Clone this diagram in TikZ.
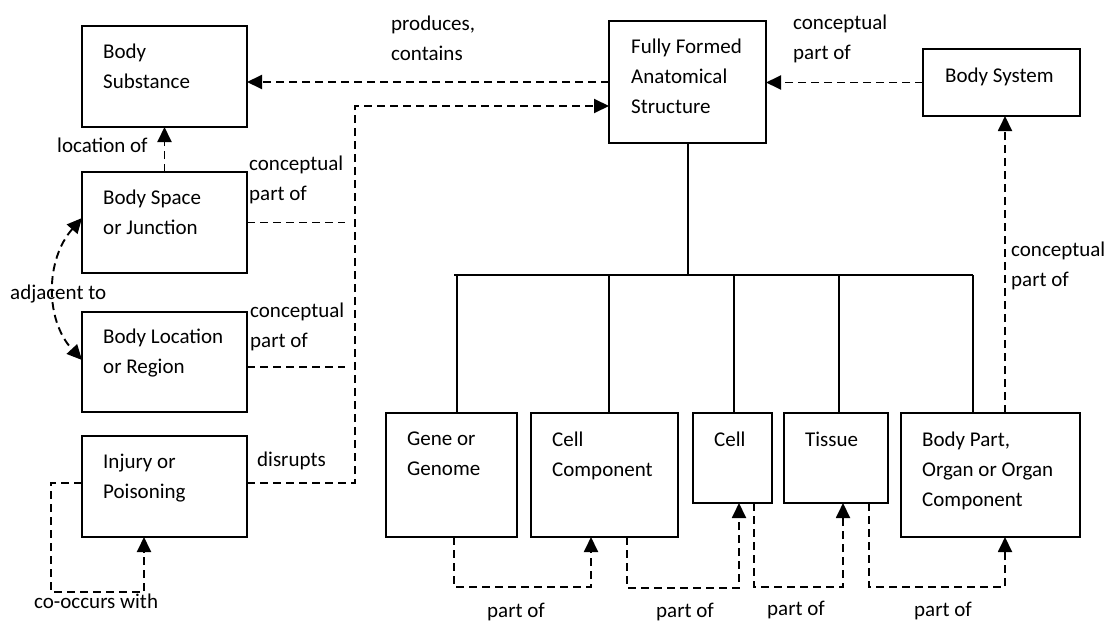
\documentclass[tikz,border=0pt]{standalone}
\usepackage{fontspec}
\setmainfont{Carlito}
\usetikzlibrary{calc,arrows.meta}
\begin{document}
\begin{tikzpicture}[x=1pt,y=-1pt,
  box/.style={draw,line width=2pt,rectangle,inner sep=0pt,outer sep=0pt,anchor=north west},
  txt/.style={anchor=north west,inner sep=0pt,align=left,font=\fontsize{21}{30}\selectfont},
  dep/.style={line width=1.9pt,dash pattern=on 8pt off 5pt},
  tip/.style={-{Triangle[length=15pt,width=14pt]}},
  bitip/.style={{Triangle[length=15pt,width=14pt]}-{Triangle[length=15pt,width=14pt]}},
  tree/.style={line width=2pt}]
\useasboundingbox (0,0) rectangle (1115,621);
% boxes
\node[box,minimum width=165pt,minimum height=101pt] (bs) at (82,26) {};
\node[box,minimum width=165pt,minimum height=101pt] (bsj) at (82,172) {};
\node[box,minimum width=165pt,minimum height=100pt] (blr) at (82,312) {};
\node[box,minimum width=165pt,minimum height=101pt] (ip) at (82,436) {};
\node[box,minimum width=157pt,minimum height=122pt] (ffas) at (609,21) {};
\node[box,minimum width=157pt,minimum height=67pt] (bsys) at (923,49) {};
\node[box,minimum width=131pt,minimum height=124pt] (gg) at (386,413) {};
\node[box,minimum width=147pt,minimum height=124pt] (cc) at (531,413) {};
\node[box,minimum width=79pt,minimum height=90pt] (cell) at (693,413) {};
\node[box,minimum width=104pt,minimum height=90pt] (tis) at (784,413) {};
\node[box,minimum width=179pt,minimum height=124pt] (bp) at (901,413) {};
% box texts
\node[txt] (bst) at ($(bs.north west)+(21,18)$) {Body\\Substance};
\node[txt] (bsjt) at ($(bsj.north west)+(21,18)$) {Body Space\\or Junction};
\node[txt] (blrt) at ($(blr.north west)+(21,17)$) {Body Location\\or Region};
\node[txt] (ipt) at ($(ip.north west)+(21,18)$) {Injury or\\Poisoning};
\node[txt] (ffast) at ($(ffas.north west)+(22,18)$) {Fully Formed\\Anatomical\\Structure};
\node[txt] (bsyst) at ($(bsys.north west)+(22,19)$) {Body System};
\node[txt] (ggt) at ($(gg.north west)+(21,19)$) {Gene or\\Genome};
\node[txt] (cct) at ($(cc.north west)+(21,19)$) {Cell\\Component};
\node[txt] (cellt) at ($(cell.north west)+(21,19)$) {Cell};
\node[txt] (tist) at ($(tis.north west)+(21,19)$) {Tissue};
\node[txt] (bpt) at ($(bp.north west)+(21,19)$) {Body Part,\\Organ or Organ\\Component};
% coordinates
\coordinate (jtop) at (355,106);
\coordinate (co1) at (51,592);
\coordinate (ipb) at ($(ip.south west)+(62,0)$);
\coordinate (bpn) at ($(bp.north west)+(104,0)$);
\coordinate (bar) at (0,275);
\coordinate (barL) at (454,275);
\coordinate (barR) at (973,275);
% top connectors
\draw[dep,tip] (ffas.west) -- (ffas.west -| bs.east);
\draw[dep,tip] ([yshift=3.5pt]ip.east) -| (jtop) -- (jtop -| ffas.west);
\draw[dep] (bsj.east) -- ++(98,0) coordinate (bsje);
\draw[dep] ([yshift=-5pt]blr.east) -- ++(98,0) coordinate (blre);
\draw[dep,tip] (bsj.north) -- (bs.south);
\draw[dep,bitip] ([yshift=4.5pt]bsj.west) .. controls +(-37,42) and +(-37,-40) .. ([yshift=2pt]blr.west);
\draw[dep,tip] ([yshift=3.5pt]ip.west) -| (co1) -| (ipb);
\draw[dep,tip] (bsys.west) -- (bsys.west -| ffas.east);
\draw[dep,tip] (bpn) -- (bpn |- bsys.south);
% tree
\draw[tree] (ffas.south) -- (ffas.south |- bar);
\draw[tree] (barL) -- (barR);
\draw[tree] ($(gg.north west)+(71,0)$) -- ($(gg.north west)+(71,-138)$);
\draw[tree] ($(cc.north west)+(78,0)$) -- ($(cc.north west)+(78,-138)$);
\draw[tree] ($(cell.north west)+(41,0)$) -- ($(cell.north west)+(41,-138)$);
\draw[tree] ($(tis.north west)+(55,0)$) -- ($(tis.north west)+(55,-138)$);
\draw[tree] ($(bp.north west)+(72,0)$) -- ($(bp.north west)+(72,-138)$);
% part of connectors
\draw[dep,tip] ($(gg.south west)+(68,0)$) -- ++(0,50) -| ($(cc.south west)+(60,0)$);
\draw[dep,tip] ($(cc.south west)+(96,0)$) -- ++(0,51) -| ($(cell.south west)+(46,0)$);
\draw[dep,tip] ($(cell.south west)+(61,0)$) -- ++(0,84) -| ($(tis.south west)+(59,0)$);
\draw[dep,tip] ($(tis.south west)+(85,0)$) -- ++(0,84) -| ($(bp.south west)+(104,0)$);
% labels
\node[txt] (l1) at (391,16) {produces,\\contains};
\node[txt] (l2) at (793,15) {conceptual\\part of};
\node[txt] (l3) at (57,138) {location of};
\node[txt] (l4) at (249,156) {conceptual\\part of};
\node[txt] (l5) at (250,303) {conceptual\\part of};
\node[txt] (l6) at (257,452) {disrupts};
\node[txt] (l7) at (10,285) {adjacent to};
\node[txt] (l8) at (34,594) {co-occurs with};
\node[txt] (l9) at (1011,242) {conceptual\\part of};
\node[txt] (p1) at (487,603) {part of};
\node[txt] (p2) at (656,603) {part of};
\node[txt] (p3) at (767,601) {part of};
\node[txt] (p4) at (914,602) {part of};
\end{tikzpicture}
\end{document}
